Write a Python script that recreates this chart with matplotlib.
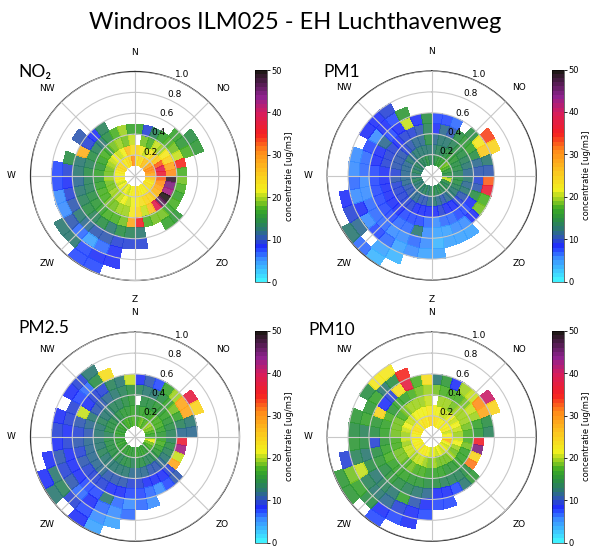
import numpy as np
import matplotlib.pyplot as plt
from matplotlib.colors import LinearSegmentedColormap, Normalize
from matplotlib.cm import ScalarMappable

title = "Windroos ILM025 - EH Luchthavenweg"
directions = ["N", "NO", "O", "ZO", "Z", "ZW", "W", "NW"]
r_ticks = [0.2, 0.4, 0.6, 0.8, 1.0]
cbar_ticks = [0, 10, 20, 30, 40, 50]
cbar_label = "concentratie [ug/m3]"
n = None

# one row per 10 degree sector, clockwise from north
# values per ring of 0.1, first ring from r=0.1 to 0.2
no2 = [
    [22, 24, n, 16],
    [24, 22, 18, 9],
    [23, 20, 17, 13],
    [26, 22, 20, 16],
    [25, 24, 19, 17, 16],
    [28, 25, 22, 18, 15, 14],
    [30, 32, 24, 20, 17, 15],
    [30, 38, 28, 34],
    [28, 36, 30, 17],
    [26, 32, 48, 18],
    [24, 30, 44, 17],
    [22, 28, 42, 16],
    [23, 27, 49, 17],
    [22, 26, 46, 16, 15],
    [22, 24, 38, 18, 16],
    [21, 24, 26, 18],
    [22, 23, 20, 17],
    [23, 22, 24, 35, 12, 9],
    [22, 21, 22, 28, 13, 9],
    [21, 20, 19, 18, 14, 9, 8, 8],
    [20, 21, 19, 17, 12, 10, 6, 8, 7],
    [21, 20, 18, 17, 14, 10, 4, 7, 7],
    [20, 19, 18, 16, 13, 11, 6, 12],
    [21, 19, 17, 15, 14, 12, 10, 12],
    [20, 18, 17, 14, 13, 10, 5],
    [21, 18, 16, 13, 12, 9, 5],
    [22, 19, 15, 13, 11, 8, 7],
    [21, 18, 16, 14, 12, 9, 7],
    [22, 18, 15, 13, 12, 14],
    [23, 19, 16, 14, 27],
    [24, 20, 17, 13, 9, 10],
    [23, 21, 16, 12, 8],
    [22, 20, 18, 14, 13],
    [23, 21, 19, 17],
    [24, 26, 18, 19],
    [30, 23, 20, 16],
]

pm1 = [
    [13, 12, 11, 8, 7],
    [14, 13, 12, 11, 7],
    [15, 13, 12, 10, 6],
    [15, 14, 13, 14],
    [16, 15, 14, 15, 14],
    [18, 15, 14, 16, 22, 33],
    [17, 14, 13, 14, 25, 24],
    [15, 14, 12, 11, 12],
    [14, 13, 11, 10, 10],
    [16, 14, 12, 9, 32],
    [20, 14, 11, 10, 36],
    [14, 13, 12, 14, 17],
    [13, 12, 10, 8, 18],
    [14, 12, 9, 7, 8],
    [13, 11, 8, 7, 5, 4],
    [14, 10, 8, 6, 5, 4],
    [13, 11, 9, 6, 4, 4],
    [14, 12, 8, 5, 4, 3, 4],
    [13, 11, 8, 6, 5, 5, 4],
    [12, 10, 8, 7, 12, 6, 5],
    [13, 10, 8, 7, 6, 5, 4, 3],
    [12, 11, 9, 7, 6, 5, 6, 4, 3],
    [13, 11, 9, 8, 7, 6, 7, n, 6],
    [12, 10, 9, 8, 7, 6, 5, 11, 12],
    [12, 10, 9, 8, 7, 6, 8, 9],
    [13, 11, 9, 8, 7, 5, 5, 8],
    [12, 11, 10, 8, 7, 5, 6],
    [12, 11, 9, 8, 7, 6, 5],
    [13, 11, 10, 9, 8, 6, 5],
    [12, 11, 10, 9, 8, 7],
    [13, 12, 10, 9, 11, 5, 8],
    [12, 11, 9, 8, 7, 8, 8],
    [13, 12, 10, 9, 8, 7, 9],
    [13, 12, 11, 9, 20, 15],
    [14, 12, 11, 10, 8],
    [13, 12, 14, 13, 14],
]

pm25 = [
    [16, 15, n, 13, 8],
    [17, 16, 14, 12, 10],
    [18, 16, 14, 12, 7],
    [17, 16, 15, 14, 16],
    [18, 17, 15, 16, 19],
    [19, 17, 16, 18, 29, 37],
    [18, 17, 15, 16, 28, 24],
    [17, 16, 14, 13, 12],
    [16, 15, 13, 11, 11],
    [18, 16, 13, 36],
    [21, 17, 14, 42],
    [18, 16, 13, 20],
    [17, 15, 12, 28],
    [16, 14, 11, 9, 10],
    [15, 13, 10, 8, 7],
    [16, 13, 10, 8, 5],
    [15, 14, 11, 8, 6, 5],
    [16, 14, 11, 9, 7, 6],
    [15, 13, 11, 9, 7, 5, 6],
    [15, 14, 12, 10, 8, 6, 5, 4],
    [16, 14, 12, 10, 8, 12, 6, 5, 4],
    [15, 13, 12, 10, 9, 7, 8, 7, 8],
    [16, 14, 12, 11, 9, 7, 6, 9, n],
    [15, 14, 12, 11, 9, 8, 10, 13, 12],
    [16, 14, 13, 11, 10, 8, 9, 12, 8],
    [15, 14, 12, 11, 9, 8, 10, 8],
    [16, 14, 12, 11, 10, 9, 8],
    [15, 13, 12, 10, 9, 8, 9],
    [16, 14, 12, 11, 10, 9, 8],
    [15, 14, 13, 12, 20, 9],
    [16, 14, 12, 10, 8, 7, 8],
    [15, 13, 12, 10, 9, 6, 9],
    [16, 14, 13, 11, 9, 14, 12],
    [17, 15, 13, 12, 13, 23],
    [16, 15, 14, 13, 12],
    [17, 16, 15, 14, 20],
]

pm10 = [
    [22, 21, n, 18, 12],
    [23, 21, 19, 17, 15],
    [22, 20, 19, 17, 8],
    [21, 20, 18, 17, 19],
    [22, 21, 19, 18, 20],
    [21, 20, 19, 20, 30, 40],
    [22, 21, 19, 19, 29, 24],
    [20, 20, 18, 16, 14],
    [21, 19, 17, 15, 13],
    [22, 20, 17, 35],
    [27, 21, 18, 44],
    [21, 19, 16, 24],
    [20, 18, 16, 31],
    [21, 19, 16, 14, 15],
    [20, 18, 15, 13, 12],
    [21, 18, 15, 13, 7],
    [20, 18, 16, 13, 8, 7],
    [21, 19, 16, 14, 8, 7],
    [20, 18, 16, 14, 11, 8, 7],
    [21, 19, 17, 15, 12, 10, 8, 8],
    [22, 20, 17, 15, 13, 16, 9, 7],
    [21, 20, 18, 16, 14, 12, 11, 8, 7],
    [22, 19, 17, 16, 15, 13, 12, 14, n],
    [21, 20, 18, 16, 14, 12, 13, 16, 15],
    [22, 20, 18, 17, 15, 14, 20, 18, 15],
    [21, 19, 17, 16, 14, 12, 13, 9],
    [22, 20, 17, 15, 9, 14, 15],
    [21, 19, 18, 16, 14, 13, 14],
    [22, 20, 18, 16, 15, 16, 15],
    [23, 21, 18, 17, 24, 15],
    [22, 20, 17, 15, 8, 16, 14],
    [21, 20, 18, 16, 9, 12, 22],
    [22, 21, 19, 16, 23, 14, 22],
    [23, 21, 19, 17, 37, 34],
    [22, 21, 19, 18, 17],
    [24, 22, 20, 19, 23],
]

panels = [
    ("NO\u2082", no2),
    ("PM1", pm1),
    ("PM2.5", pm25),
    ("PM10", pm10),
]

cmap_colors = [
    (0.00, "#40f0ff"), (0.10, "#3a90ff"), (0.16, "#1f2cff"),
    (0.20, "#2f55b8"), (0.24, "#2a7575"), (0.29, "#2a9040"),
    (0.34, "#3aaa25"), (0.38, "#90cc20"), (0.43, "#f2f01e"),
    (0.52, "#fcc41e"), (0.62, "#ff8a1a"), (0.70, "#f52020"),
    (0.80, "#d81c5c"), (0.88, "#8e2290"), (1.00, "#201818"),
]
cmap = LinearSegmentedColormap.from_list("conc", cmap_colors, N=50)
norm = Normalize(vmin=0, vmax=50)

theta_edges = np.deg2rad(np.arange(0, 361, 10))
r_edges = np.arange(0.1, 1.001, 0.1)
n_rings = len(r_edges) - 1

fig = plt.figure(figsize=(5.91, 5.54), dpi=100)
fig.text(0.5, 0.96, title, ha="center", va="center",
         fontsize=17, family=["Lato", "DejaVu Sans"])

# figure positions in pixels: polar centre x, centre y, colorbar x, label x, label y
layout = [
    (135, 176, 255, 18, 72),
    (431.7, 175.5, 552, 323, 72),
    (135, 436.7, 255, 18, 328),
    (431.7, 436.7, 552, 308, 330),
]
W, H = 591, 554
R = 104.5

for (name, data), (cx, cy, cbx, lx, ly) in zip(panels, layout):
    grid = np.full((n_rings, 36), np.nan)
    for i, vals in enumerate(data):
        for k, v in enumerate(vals):
            if v is not None:
                grid[k, i] = v
    ax = fig.add_axes([(cx - R) / W, 1 - (cy + R) / H, 2 * R / W, 2 * R / H],
                      projection="polar")
    ax.set_theta_zero_location("N")
    ax.set_theta_direction(-1)
    ax.pcolormesh(theta_edges, r_edges, np.ma.masked_invalid(grid),
                  cmap=cmap, norm=norm, alpha=0.9)
    ax.set_ylim(0, 1.0)
    ax.set_rticks(r_ticks)
    ax.set_yticklabels([f"{t:.1f}" for t in r_ticks], fontsize=6.5)
    ax.set_rlabel_position(22.5)
    ax.set_thetagrids(np.arange(0, 360, 45), directions, fontsize=6.5)
    ax.set_axisbelow(False)
    ax.grid(color="#c8c8c8", linewidth=0.8)
    ax.spines["polar"].set_color("#333333")
    ax.spines["polar"].set_linewidth(0.9)

    cax = fig.add_axes([cbx / W, 1 - (cy + 106) / H, 11.5 / W, 212 / H])
    cb = fig.colorbar(ScalarMappable(norm=norm, cmap=cmap), cax=cax,
                      ticks=cbar_ticks)
    cb.outline.set_linewidth(0.4)
    cb.ax.tick_params(labelsize=6, length=2, width=0.6, pad=1.5)
    cb.set_label(cbar_label, fontsize=6, labelpad=2)

    fig.text(lx / W, 1 - ly / H, name, ha="left", va="center",
             fontsize=12.5, family=["Lato", "DejaVu Sans"])

fig.savefig("out.png", dpi=100)
